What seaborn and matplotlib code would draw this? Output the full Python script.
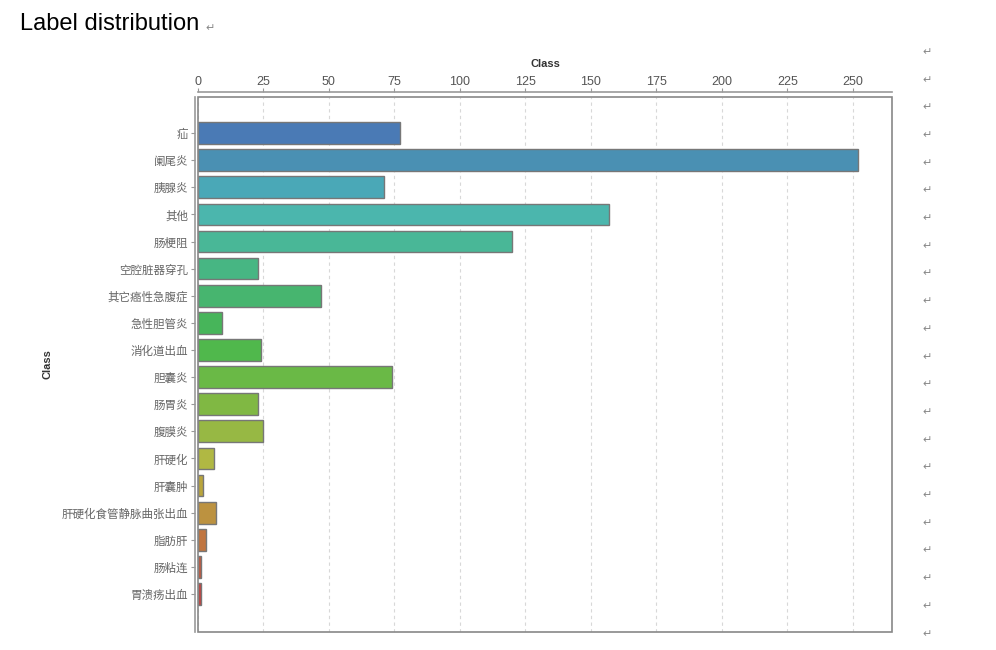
import matplotlib
matplotlib.use("Agg")
import matplotlib.pyplot as plt
from matplotlib.patches import Rectangle
import seaborn as sns
import pandas as pd

# categories (top to bottom) and their counts
classes = ["疝", "阑尾炎", "胰腺炎", "其他", "肠梗阻", "空腔脏器穿孔", "其它癌性急腹症",
           "急性胆管炎", "消化道出血", "胆囊炎", "肠胃炎", "腹膜炎", "肝硬化", "肝囊肿",
           "肝硬化食管静脉曲张出血", "脂肪肝", "肠粘连", "胃溃疡出血"]
counts = [77, 252, 71, 157, 120, 23, 47, 9, 24, 74, 23, 25, 6, 2, 7, 3, 1, 1]
x_ticks = [0, 25, 50, 75, 100, 125, 150, 175, 200, 225, 250]

bar_colors = ["#4a7ab5", "#4a90b3", "#4aa8b7", "#4bb6ad", "#49b797", "#47b683",
              "#47b56f", "#47b55a", "#50b84c", "#6ab946", "#80b843", "#97b844",
              "#b0b843", "#b9a53c", "#bc9240", "#c07540", "#c05a40", "#c34440"]

df = pd.DataFrame({"Class": classes, "count": counts})

sns.set_theme(style="white")
plt.rcParams["font.family"] = ["Liberation Sans", "Noto Sans CJK SC", "DejaVu Sans"]

fig = plt.figure(figsize=(9.96, 6.5), dpi=100)
ax = fig.add_axes([0.1988, 0.0277, 0.6968, 0.8231])

sns.barplot(data=df, x="count", y="Class", hue="Class", palette=bar_colors,
            legend=False, orient="h", width=0.8, saturation=1,
            edgecolor="#777777", linewidth=1.0, ax=ax)

ax.set_xlim(0, 265)
ax.set_ylim(18.4, -1.33)
ax.set_xticks(x_ticks)
ax.xaxis.set_ticks_position("top")
ax.xaxis.set_label_position("top")
ax.grid(axis="x", color="#d8d8d8", linestyle=(0, (3, 3)), linewidth=0.8)
ax.set_axisbelow(True)

# offset axis lines like the original, plus a plain frame around the plot area
for side in ["right", "bottom"]:
    ax.spines[side].set_visible(False)
ax.spines["top"].set_position(("outward", 3.6))
ax.spines["left"].set_position(("outward", 2.2))
for side in ["top", "left"]:
    ax.spines[side].set_color("#999999")
    ax.spines[side].set_linewidth(1.2)
ax.add_patch(Rectangle((0, 0), 1, 1, transform=ax.transAxes, fill=False,
                       edgecolor="#888888", linewidth=1.2, clip_on=False, zorder=5))

ax.tick_params(axis="x", top=True, bottom=False, direction="out", length=3,
               width=0.8, color="#999999", labelsize=9, labelcolor="#555555", pad=0)
ax.tick_params(axis="y", left=True, direction="out", length=3, width=0.8,
               color="#999999", labelcolor="#666666", pad=2)
for lbl in ax.get_yticklabels():
    lbl.set_fontfamily(["Noto Sans CJK SC", "DejaVu Sans"])
    lbl.set_fontsize(8.3)

ax.set_xlabel("Class", fontsize=8, fontweight="bold", color="#333333", labelpad=6)
ax.set_ylabel("Class", fontsize=8, fontweight="bold", color="#333333", labelpad=0)
ax.yaxis.set_label_coords(-0.21, 0.5)

# document title and paragraph marks from the page
fig.text(0.02, 0.963, "Label distribution", fontsize=17, color="black",
         ha="left", va="center", family="Liberation Sans")
fig.text(0.211, 0.957, "↵", fontsize=8, color="#888888", ha="center", va="center",
         family="DejaVu Sans")
for i in range(22):
    y_px = 52 + i * 27.7
    fig.text(0.931, 1 - y_px / 650, "↵", fontsize=8, color="#888888",
             ha="center", va="center", family="DejaVu Sans")

fig.savefig("out.png", dpi=100, facecolor="white")
